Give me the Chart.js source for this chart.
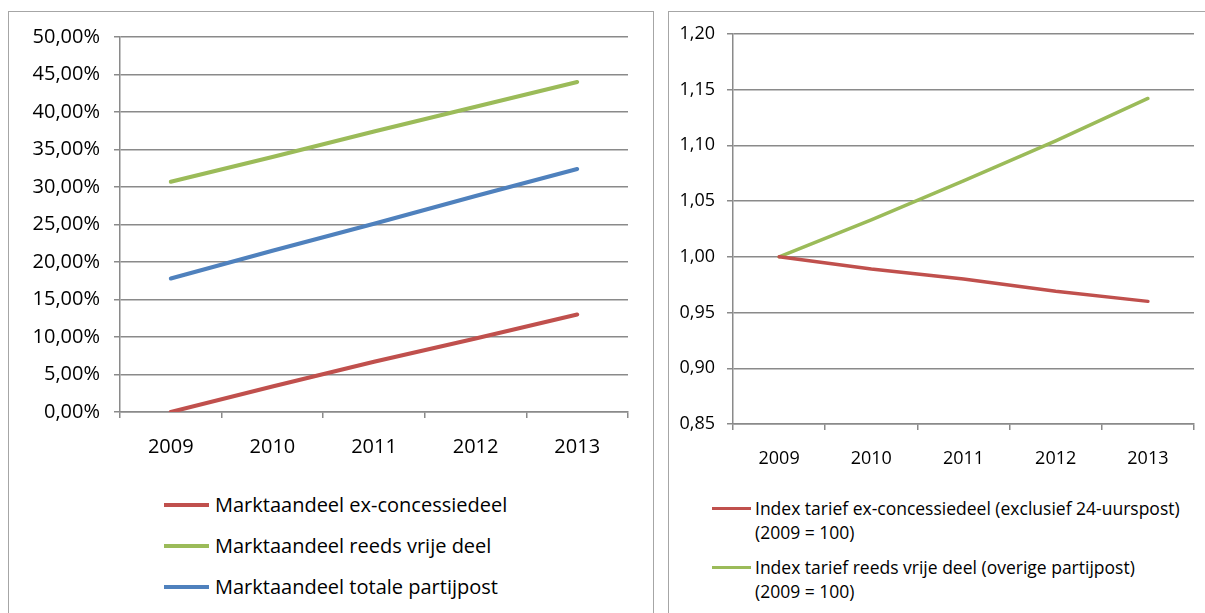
<!DOCTYPE html>
<html>
<head>
<meta charset="utf-8">
<script src="https://cdn.jsdelivr.net/npm/chart.js@4/dist/chart.umd.min.js"></script>
<style>
    html, body { margin: 0; padding: 0; background: #fff; }
    body { width: 1205px; height: 613px; position: relative; overflow: hidden; font-family: "Open Sans", sans-serif; color: #000; }
    .panel { position: absolute; border: 1.5px solid #a6a6a6; box-sizing: border-box; }
    canvas { position: absolute; }
    .lg-item { position: absolute; white-space: pre-line; }
    .lg-line { position: absolute; }
</style>
</head>
<body>
<div class="panel" style="left:8px;top:11px;width:646px;height:640px;"></div>
<div class="panel" style="left:668px;top:11px;width:560px;height:640px;"></div>
<canvas id="shareChart" width="645" height="459" style="left:8px;top:11px;"></canvas>
<canvas id="indexChart" width="537" height="459" style="left:668px;top:11px;"></canvas>
<div id="shareLegend"></div>
<div id="indexLegend"></div>
<script>
// ========== 数据 ==========
const years = ['2009', '2010', '2011', '2012', '2013'];

// 市场份额 (%)
const shareExConcessie = [0.0, 3.4, 6.7, 9.8, 13.0];
const shareReedsVrij = [30.7, 34.0, 37.4, 40.7, 44.0];
const shareTotaal = [17.8, 21.5, 25.1, 28.8, 32.4];

// 指数 (2009 = 1,00)
const indexExConcessie = [1.000, 0.989, 0.980, 0.969, 0.960];
const indexReedsVrij = [1.000, 1.033, 1.068, 1.104, 1.142];

const RED = '#c0504d';
const GREEN = '#9bbb59';
const BLUE = '#4f81bd';
const GRID = '#8a8a8a';

const comma = (v, d) => v.toFixed(d).replace('.', ',');

// ========== 通用配置 ==========
function makeOptions(o) {
    return {
        responsive: false,
        animation: false,
        devicePixelRatio: 1,
        layout: { padding: { top: o.padTop, right: o.padRight, left: 0, bottom: 0 } },
        plugins: { legend: { display: false }, tooltip: { enabled: false } },
        elements: { point: { radius: 0 }, line: { tension: 0, borderCapStyle: 'round' } },
        scales: {
            x: {
                offset: true,
                grid: { offset: true, drawOnChartArea: false, drawTicks: true, tickLength: 6, color: GRID, lineWidth: 1.5 },
                border: { color: GRID, width: 1.5 },
                ticks: { color: '#000', font: { family: 'Open Sans', size: o.xFont }, padding: o.xPad, maxRotation: 0 },
                afterFit: s => { s.height = o.xHeight; }
            },
            y: {
                min: o.min,
                max: o.max,
                grid: { color: GRID, lineWidth: 1.5, tickLength: 6 },
                border: { color: GRID, width: 1.5 },
                ticks: {
                    stepSize: o.step,
                    color: '#000',
                    font: { family: 'Open Sans', size: o.yFont },
                    padding: o.yPad,
                    callback: o.fmt
                },
                afterFit: s => { s.width = o.yWidth; }
            }
        }
    };
}

// ========== HTML 图例 ==========
function buildLegend(chart, el, o) {
    el.innerHTML = chart.data.datasets.map((ds, i) => `
        <div class="lg-line" style="left:${o.lineX}px;top:${o.y0 + i * o.gap - o.lineW / 2}px;width:${o.lineLen}px;height:${o.lineW}px;background:${ds.borderColor};"></div>
        <div class="lg-item" style="left:${o.textX}px;top:${o.y0 + i * o.gap - o.lh / 2}px;font-size:${o.size}px;line-height:${o.lh}px;">${ds.label}</div>
    `).join('');
}

// ========== 左图 ==========
const shareChart = new Chart(document.getElementById('shareChart'), {
    type: 'line',
    data: {
        labels: years,
        datasets: [
            { label: 'Marktaandeel ex-concessiedeel', data: shareExConcessie, borderColor: RED, borderWidth: 4 },
            { label: 'Marktaandeel reeds vrije deel', data: shareReedsVrij, borderColor: GREEN, borderWidth: 4 },
            { label: 'Marktaandeel totale partijpost', data: shareTotaal, borderColor: BLUE, borderWidth: 4 }
        ]
    },
    options: makeOptions({
        padTop: 24, padRight: 25, xHeight: 58, yWidth: 112,
        min: 0, max: 50, step: 5,
        xFont: 20, yFont: 20, xPad: 17, yPad: 14,
        fmt: v => comma(v, 2) + '%'
    })
});
buildLegend(shareChart, document.getElementById('shareLegend'), {
    lineX: 164, lineLen: 45, lineW: 4, textX: 215, y0: 505, gap: 41, size: 20, lh: 26
});

// ========== 右图 ==========
const indexChart = new Chart(document.getElementById('indexChart'), {
    type: 'line',
    data: {
        labels: years,
        datasets: [
            { label: 'Index tarief ex-concessiedeel (exclusief 24-uurspost)\n(2009 = 100)', data: indexExConcessie, borderColor: RED, borderWidth: 3.5 },
            { label: 'Index tarief reeds vrije deel (overige partijpost)\n(2009 = 100)', data: indexReedsVrij, borderColor: GREEN, borderWidth: 3.5 }
        ]
    },
    options: makeOptions({
        padTop: 22, padRight: 11, xHeight: 46, yWidth: 65,
        min: 0.85, max: 1.2, step: 0.05,
        xFont: 18, yFont: 18, xPad: 18, yPad: 12,
        fmt: v => comma(v, 2)
    })
});
buildLegend(indexChart, document.getElementById('indexLegend'), {
    lineX: 712, lineLen: 39, lineW: 3, textX: 755, y0: 508, gap: 59, size: 17.5, lh: 24
});
</script>
</body>
</html>
